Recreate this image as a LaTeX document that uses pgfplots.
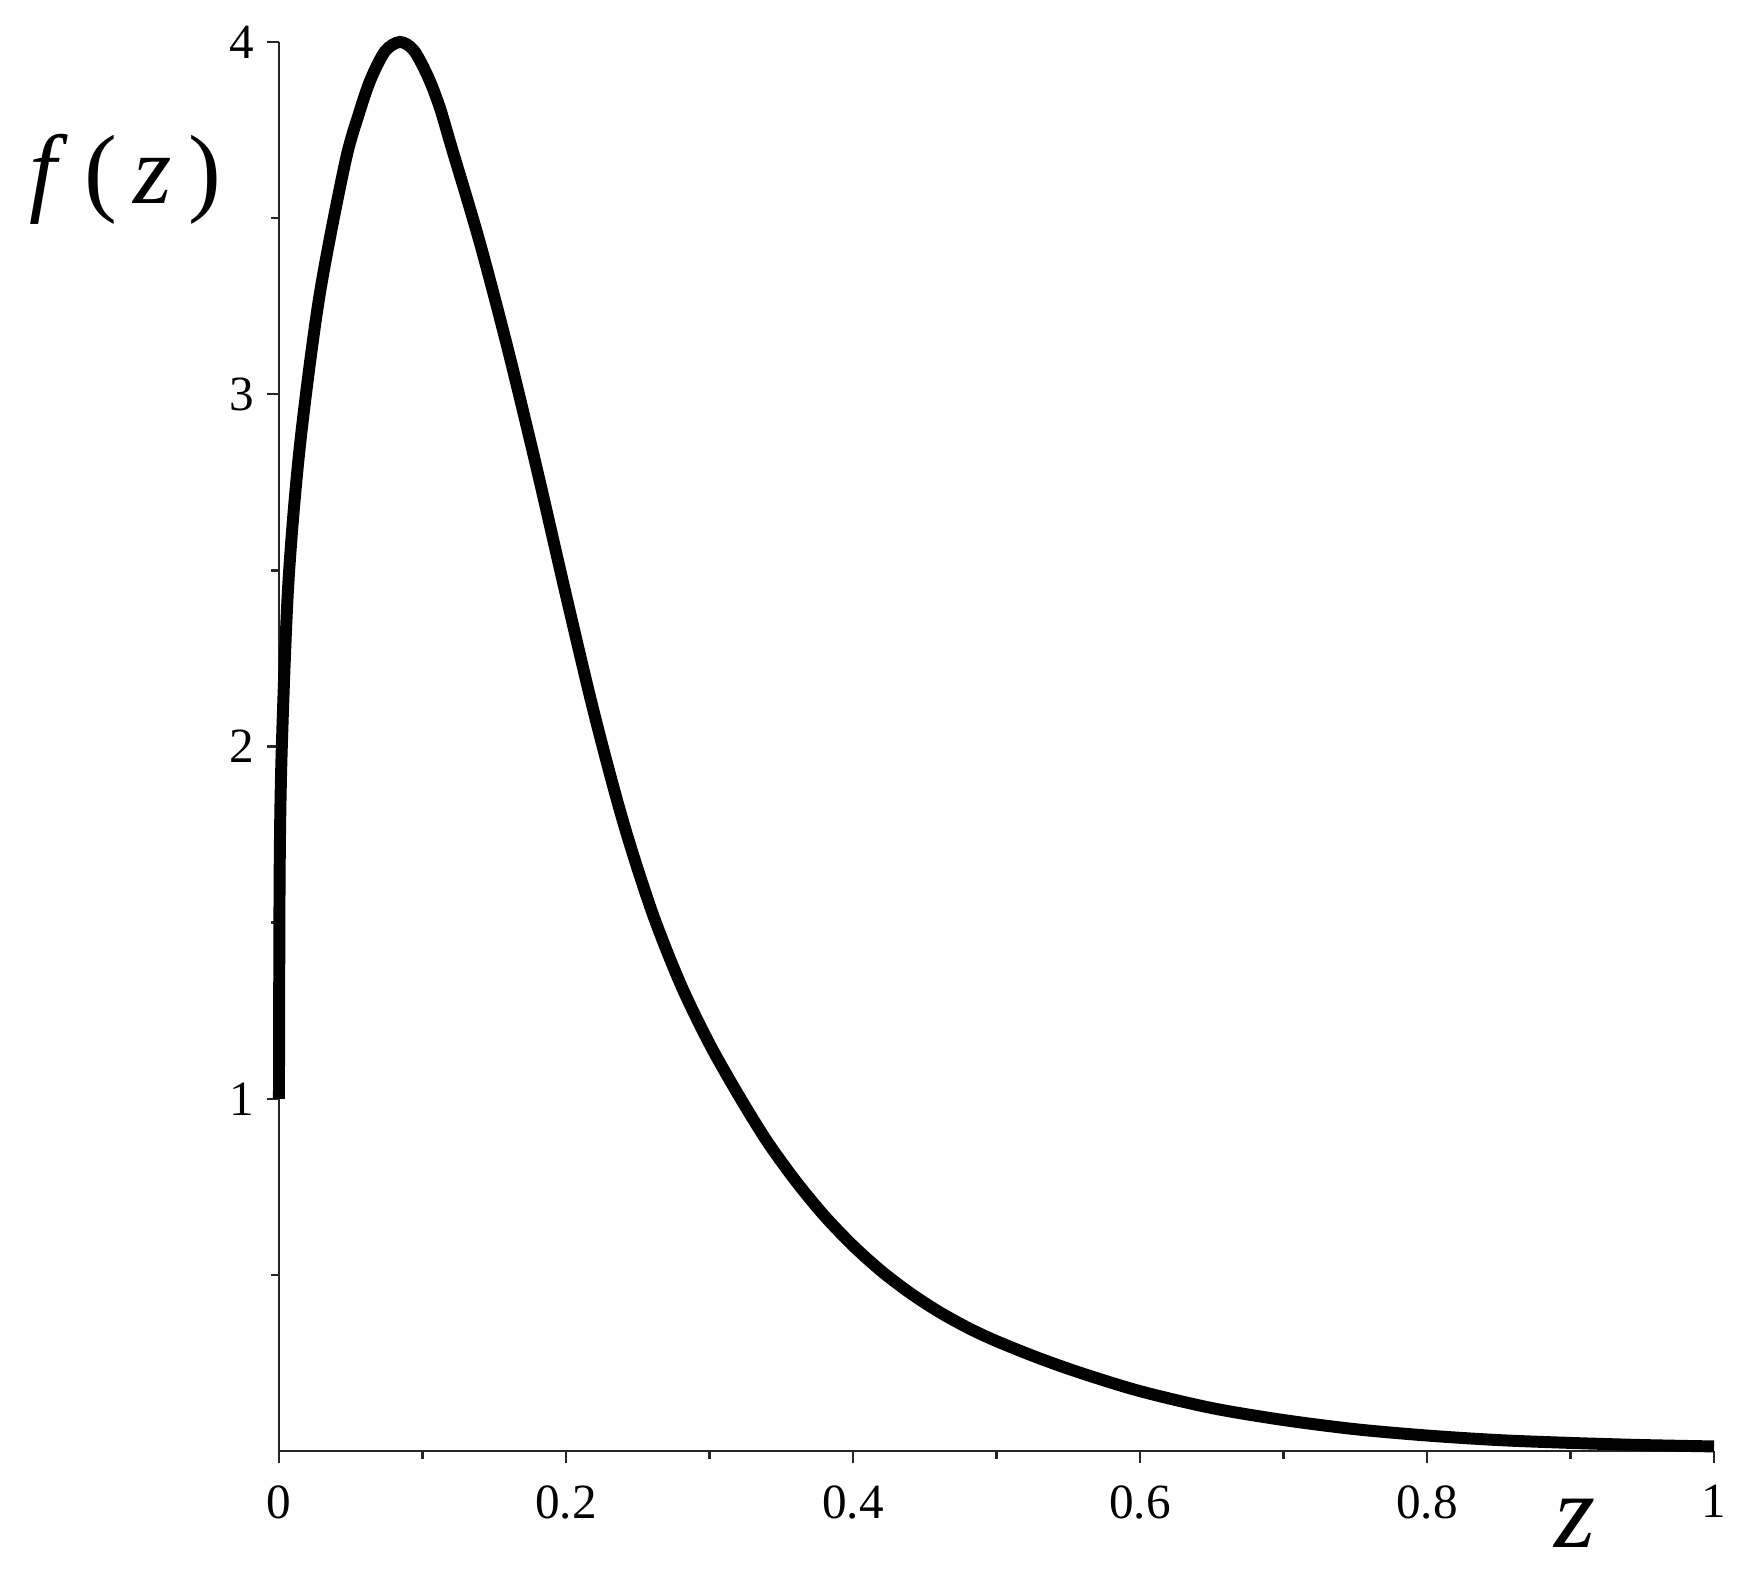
\documentclass[border=0pt]{standalone}
\usepackage{fontspec}
\setmainfont{Liberation Serif}
\usepackage{pgfplots}
\pgfplotsset{compat=1.18}

% density
\pgfplotstableread{
z       f
0       1.00
0.0005  1.65
0.002   2.00
0.0065  2.46
0.0145  2.85
0.0281  3.276
0.046   3.655
0.056   3.80
0.064   3.895
0.074   3.974
0.0843  4.00
0.094   3.976
0.104   3.90
0.112   3.815
0.12    3.705
0.14    3.430
0.16    3.120
0.18    2.783
0.20    2.430
0.22    2.088
0.24    1.784
0.26    1.530
0.28    1.324
0.30    1.156
0.32    1.012
0.34    0.880
0.36    0.767
0.38    0.668
0.40    0.583
0.42    0.510
0.44    0.448
0.46    0.395
0.48    0.350
0.50    0.312
0.53    0.263
0.56    0.220
0.60    0.170
0.65    0.122
0.70    0.088
0.75    0.062
0.80    0.044
0.85    0.031
0.90    0.023
0.95    0.017
1.00    0.013
}\density

\begin{document}
\begin{tikzpicture}
\begin{axis}[
    scale only axis, width=14.35cm, height=14.09cm,
    xmin=0, xmax=1, ymin=0, ymax=4,
    axis x line=bottom, axis y line=left,
    axis line style={-, line width=0.7pt, black!85},
    xtick={0,0.2,0.4,0.6,0.8,1},
    xticklabels={0,0.2,0.4,0.6,0.8,1},
    minor xtick={0.1,0.3,0.5,0.7,0.9},
    ytick={1,2,3,4},
    minor ytick={0.5,1.5,2.5,3.5},
    tick align=outside,
    major tick length=0.12cm, minor tick length=0.08cm,
    tick style={black!85, line width=0.7pt},
    ticklabel style={font=\fontsize{14}{15}\selectfont},
    xticklabel style={yshift=-0.1cm},
    /pgf/number format/assume math mode=true,
    clip=false,
]
\addplot[black, line width=3.4pt, smooth] table[x=z, y=f] {\density};

\node[font=\fontsize{28}{30}\selectfont] at (axis cs:-0.107,3.61)
    {\textit{f}\,(\,\textit{z}\,)};
\node[font=\fontsize{30}{30}\selectfont\itshape] at (axis cs:0.903,-0.205) {z};

\path (rel axis cs:-0.1944,-0.0923) rectangle (rel axis cs:1.0244,1.0298);
\end{axis}
\end{tikzpicture}
\end{document}
